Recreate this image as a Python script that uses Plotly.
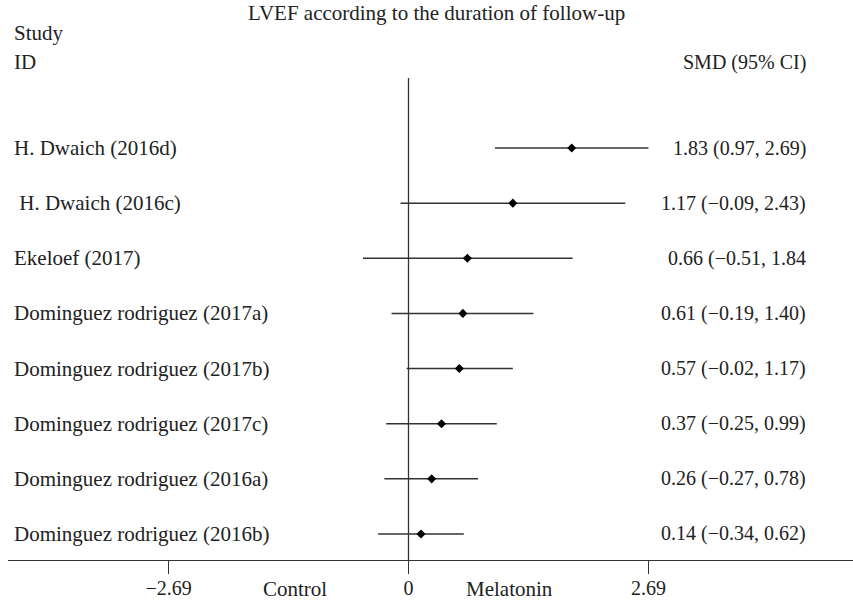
import plotly.graph_objects as go

studies = ["H. Dwaich (2016d)", " H. Dwaich (2016c)", "Ekeloef (2017)",
           "Dominguez rodriguez (2017a)", "Dominguez rodriguez (2017b)",
           "Dominguez rodriguez (2017c)", "Dominguez rodriguez (2016a)",
           "Dominguez rodriguez (2016b)"]
smd = [1.83, 1.17, 0.66, 0.61, 0.57, 0.37, 0.26, 0.14]
lower = [0.97, -0.09, -0.51, -0.19, -0.02, -0.25, -0.27, -0.34]
upper = [2.69, 2.43, 1.84, 1.40, 1.17, 0.99, 0.78, 0.62]
ci_text = ["1.83 (0.97, 2.69)", "1.17 (\u22120.09, 2.43)", "0.66 (\u22120.51, 1.84",
           "0.61 (\u22120.19, 1.40)", "0.57 (\u22120.02, 1.17)", "0.37 (\u22120.25, 0.99)",
           "0.26 (\u22120.27, 0.78)", "0.14 (\u22120.34, 0.62)"]
tick_vals = [-2.69, 0, 2.69]
tick_text = ["\u22122.69", "0", "2.69"]

W, H = 853, 605
FONT = "Liberation Serif"
FS_LAB = 21
FS_CI = 20
FS_TICK = 20
FS_BIG = 21
FS_HEAD = 20

# pixel mapping helpers (layout geometry only)
x0_px, px_per_unit = 408.5, 89.2
row0_px, row_step = 148, 55.14
axis_px = 560

def yv(pix):
    return -(pix - row0_px) / row_step

rows = [-i for i in range(len(studies))]

fig = go.Figure()
for i in range(len(studies)):
    fig.add_trace(go.Scatter(x=[lower[i], upper[i]], y=[rows[i], rows[i]], mode="lines",
                             line=dict(color="#333333", width=1.5), showlegend=False,
                             hoverinfo="skip"))
fig.add_trace(go.Scatter(x=smd, y=rows, mode="markers",
                         marker=dict(symbol="diamond", size=7, color="black"),
                         showlegend=False))

# null line
fig.add_shape(type="line", x0=0, x1=0, y0=yv(78), y1=yv(axis_px),
              line=dict(color="#333333", width=1.3), xref="x", yref="y")

xmin = (8 - x0_px) / px_per_unit
xmax = (W - x0_px) / px_per_unit
fig.update_xaxes(domain=[8 / W, 1], range=[xmin, xmax], showgrid=False, zeroline=False,
                 showline=True, linecolor="#333333", linewidth=1.3,
                 anchor="free", position=1 - axis_px / H,
                 ticks="outside", ticklen=13, tickcolor="#333333", tickwidth=1,
                 tickvals=tick_vals, ticktext=tick_text, ticklabelstandoff=-3,
                 tickfont=dict(family=FONT, size=FS_TICK, color="#222222"))
fig.update_yaxes(range=[yv(H), yv(0)], visible=False, domain=[0, 1])

big = dict(family=FONT, size=FS_BIG, color="#222222")
head = dict(family=FONT, size=FS_HEAD, color="#222222")
lab = dict(family=FONT, size=FS_LAB, color="#222222")
cif = dict(family=FONT, size=FS_CI, color="#222222")
ann = []
for i in range(len(studies)):
    ann.append(dict(x=12 / W, xref="paper", y=rows[i], yref="y", text=studies[i], font=lab,
                    xanchor="left", yanchor="middle", showarrow=False))
    ann.append(dict(x=808 / W, xref="paper", y=rows[i], yref="y", text=ci_text[i], font=cif,
                    xanchor="right", yanchor="middle", showarrow=False))
ann.append(dict(x=436 / W, xref="paper", y=1 - 13 / H, yref="paper",
                text="LVEF according to the duration of follow-up", font=big,
                xanchor="center", yanchor="middle", showarrow=False))
ann.append(dict(x=12 / W, xref="paper", y=1 - 33 / H, yref="paper", text="Study",
                font=big, xanchor="left", yanchor="middle", showarrow=False))
ann.append(dict(x=12 / W, xref="paper", y=1 - 62 / H, yref="paper", text="ID",
                font=big, xanchor="left", yanchor="middle", showarrow=False))
ann.append(dict(x=808 / W, xref="paper", y=1 - 62 / H, yref="paper", text="SMD (95% CI)",
                font=head, xanchor="right", yanchor="middle", showarrow=False))
ann.append(dict(x=(295 - x0_px) / px_per_unit, xref="x", y=1 - 589 / H, yref="paper",
                text="Control", font=big, xanchor="center", yanchor="middle", showarrow=False))
ann.append(dict(x=(509 - x0_px) / px_per_unit, xref="x", y=1 - 589 / H, yref="paper",
                text="Melatonin", font=big, xanchor="center", yanchor="middle", showarrow=False))

fig.update_layout(width=W, height=H, margin=dict(l=0, r=0, t=0, b=0),
                  paper_bgcolor="white", plot_bgcolor="white",
                  font=dict(family=FONT, size=FS_LAB, color="#222222"),
                  annotations=ann)
fig.write_html("out.html")
